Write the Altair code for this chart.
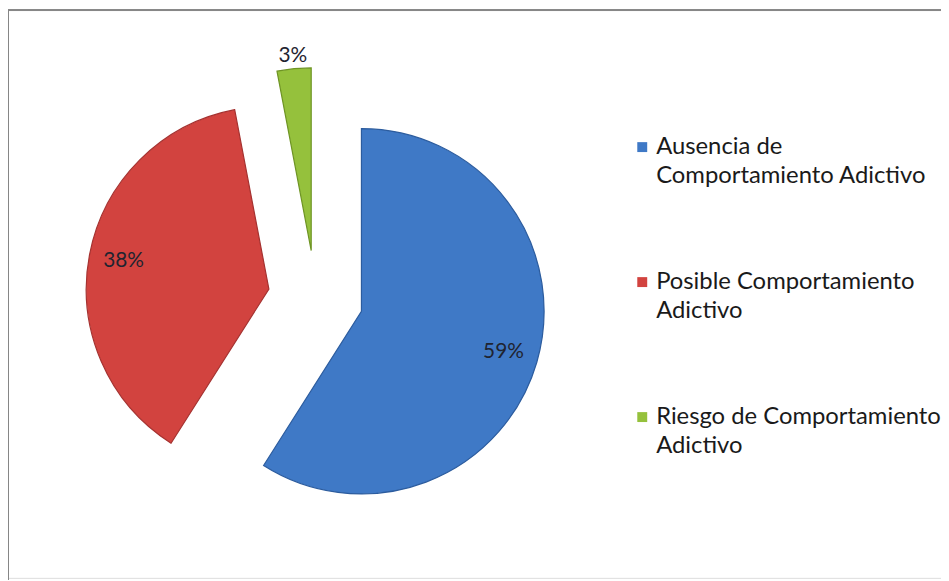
import altair as alt
import pandas as pd

categories = [
    "Ausencia de\nComportamiento Adictivo",
    "Posible Comportamiento\nAdictivo",
    "Riesgo de Comportamiento\nAdictivo",
]
values = [59, 38, 3]
fills = ["#3F79C6", "#D2433F", "#95C13C"]
edges = ["#2C5C9E", "#A53230", "#6E9424"]

df = pd.DataFrame({"cat": categories, "value": values, "k": list(range(len(values)))})

W, H = 940, 572
CX, CY, R = 310, 290, 184
EXPLODE = 48 / 184

xs = alt.Scale(domain=[-1, 1], range=[CX - R, CX + R])
ys = alt.Scale(domain=[-1, 1], range=[CY + R, CY - R])

base = alt.Chart(df).transform_joinaggregate(
    total="sum(value)"
).transform_window(
    cum="sum(value)", sort=[alt.SortField("k")], frame=[None, 0]
).transform_calculate(
    t1="datum.cum / datum.total * 2 * PI",
    t0="(datum.cum - datum.value) / datum.total * 2 * PI",
).transform_calculate(
    mid="(datum.t0 + datum.t1) / 2"
).transform_calculate(
    ex=f"sin(datum.mid) * {EXPLODE}",
    ey=f"cos(datum.mid) * {EXPLODE}",
    lr="datum.value < 10 ? 1.07 : 0.81",
    lab="datum.value + '%'",
).transform_calculate(
    lx="datum.ex + sin(datum.mid) * datum.lr",
    ly="datum.ey + cos(datum.mid) * datum.lr",
)

arcs = base.mark_arc(radius=R, strokeWidth=1.2).encode(
    x=alt.X("ex:Q", scale=xs, axis=None),
    y=alt.Y("ey:Q", scale=ys, axis=None),
    theta=alt.Theta("t0:Q", scale=None),
    theta2="t1:Q",
    color=alt.Color(
        "cat:N",
        scale=alt.Scale(domain=categories, range=fills),
        sort=categories,
        legend=alt.Legend(
            title=None,
            orient="none",
            legendX=627,
            legendY=126,
            symbolType="square",
            symbolSize=100,
            symbolStrokeWidth=0,
            labelFont="Lato",
            labelFontSize=24,
            labelColor="#1a1a1a",
            labelLimit=400,
            labelOffset=2,
            rowPadding=83,
            labelExpr="split(datum.label, '\\n')",
        ),
    ),
    stroke=alt.Stroke("cat:N", scale=alt.Scale(domain=categories, range=edges), legend=None),
)

labels = base.mark_text(font="Lato", fontSize=21, color="#1f2430").encode(
    x=alt.X("lx:Q", scale=xs, axis=None),
    y=alt.Y("ly:Q", scale=ys, axis=None),
    text="lab:N",
)

top_border = alt.Chart(df).mark_rule(color="#878787", strokeWidth=2).encode(
    x=alt.value(0), x2=alt.value(3000), y=alt.value(0)
)
left_border = alt.Chart(df).mark_rule(color="#878787", strokeWidth=2).encode(
    x=alt.value(0), y=alt.value(0), y2=alt.value(3000)
)

chart = alt.layer(arcs, labels, top_border, left_border).properties(
    width=W, height=H, padding=0, autosize="none"
).configure_view(stroke=None).configure(
    style={"guide-label": {"lineHeight": 29}}
)

chart.save("out.html", embed_options={"renderer": "svg", "actions": False})
